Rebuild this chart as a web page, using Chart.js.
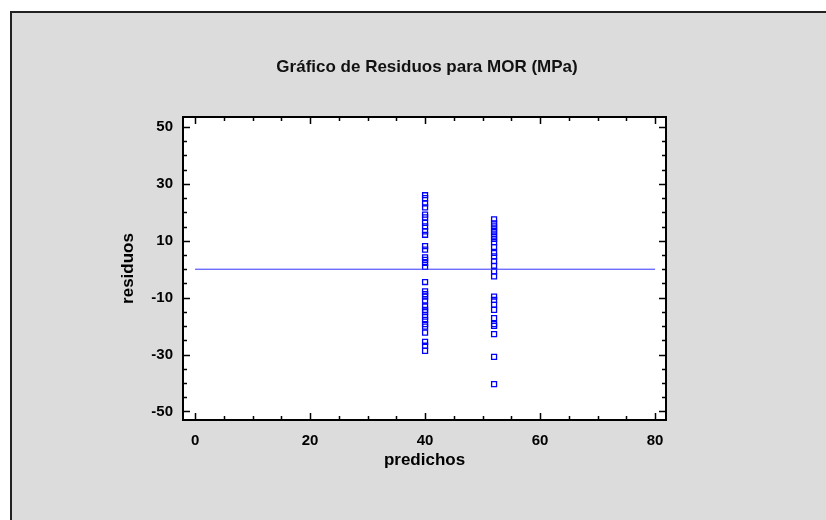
<!DOCTYPE html>
<html>
<head>
<meta charset="utf-8">
<script src="https://cdn.jsdelivr.net/npm/chart.js@4"></script>
<style>
  html, body { margin: 0; padding: 0; background: #ffffff; }
  #wrap { width: 826px; height: 520px; }
</style>
</head>
<body>
<div id="wrap"><canvas id="resChart" width="826" height="520"></canvas></div>
<script>
// predicted values of the two groups
var predA = 40.0;
var predB = 52.0;
// residuals
var residA = [26.0, 25.0, 23.1, 21.7, 19.2, 18.2, 16.3, 15.1, 13.3, 12.1, 8.1, 6.9, 4.2, 3.3, 2.2, 0.8,
  -4.5, -7.8, -8.8, -9.6, -11.0, -13.1, -14.3, -15.1, -16.7, -17.8, -19.3, -20.2, -22.3, -25.5, -26.9, -28.7];
var residB = [17.5, 16.1, 15.1, 14.0, 13.0, 11.8, 10.7, 9.5, 7.8, 5.7, 4.5, 2.8, 1.2, -0.8, -2.5,
  -9.6, -10.8, -12.5, -14.3, -17.2, -19.3, -19.9, -22.8, -30.8, -40.4];
var zeroLineX = [0, 80];
var zeroLineY = [0, 0];
var xTicks = [0, 20, 40, 60, 80];
var yTicks = [-50, -30, -10, 10, 30, 50];
var xMinor = 5, yMinor = 5;

function toPoints(x, ys) {
  return ys.map(function (v) { return { x: x, y: v }; });
}

var frame = {
  id: "frame",
  beforeDraw: function (chart) {
    var c = chart.ctx, a = chart.chartArea;
    c.save();
    c.fillStyle = "#ffffff";
    c.fillRect(0, 0, chart.width, chart.height);
    c.fillStyle = "#dcdcdc";
    c.fillRect(10, 11, chart.width - 10, chart.height - 11);
    c.strokeStyle = "#222222";
    c.lineWidth = 2;
    c.beginPath();
    c.moveTo(11, chart.height);
    c.lineTo(11, 12);
    c.lineTo(chart.width, 12);
    c.stroke();
    c.fillStyle = "#ffffff";
    c.fillRect(a.left, a.top, a.right - a.left, a.bottom - a.top);
    // title
    c.fillStyle = "#111111";
    c.font = "bold 17px 'Liberation Sans', Arial, sans-serif";
    c.textAlign = "center";
    c.textBaseline = "middle";
    c.fillText("Gráfico de Residuos para MOR (MPa)", 427, 67);
    c.restore();
  },
  afterDatasetsDraw: function (chart) {
    var c = chart.ctx, a = chart.chartArea;
    var xs = chart.scales.x, ys = chart.scales.y;
    c.save();
    c.strokeStyle = "#000000";
    c.lineWidth = 2;
    c.strokeRect(a.left, a.top, a.right - a.left, a.bottom - a.top);
    c.lineWidth = 1.5;
    c.beginPath();
    for (var v = xTicks[0]; v <= xTicks[xTicks.length - 1]; v += xMinor) {
      var len = xTicks.indexOf(v) >= 0 ? 7 : 4;
      var px = Math.round(xs.getPixelForValue(v)) + 0.5;
      c.moveTo(px, a.bottom); c.lineTo(px, a.bottom - len);
      c.moveTo(px, a.top); c.lineTo(px, a.top + len);
    }
    for (var w = yTicks[0]; w <= yTicks[yTicks.length - 1]; w += yMinor) {
      var l2 = yTicks.indexOf(w) >= 0 ? 7 : 4;
      var py = Math.round(ys.getPixelForValue(w)) + 0.5;
      c.moveTo(a.left, py); c.lineTo(a.left + l2, py);
      c.moveTo(a.right, py); c.lineTo(a.right - l2, py);
    }
    c.stroke();
    c.restore();
  }
};

var tickFont = { family: "'Liberation Sans', Arial, sans-serif", size: 15, weight: "bold" };
var titleFont = { family: "'Liberation Sans', Arial, sans-serif", size: 17, weight: "bold" };

new Chart(document.getElementById("resChart").getContext("2d"), {
  type: "scatter",
  data: {
    datasets: [
      {
        label: "cero",
        type: "line",
        data: zeroLineX.map(function (x, i) { return { x: x, y: zeroLineY[i] }; }),
        borderColor: "#3333ff",
        borderWidth: 1,
        pointRadius: 0,
        fill: false
      },
      {
        label: "grupo A",
        data: toPoints(predA, residA),
        pointStyle: "rect",
        pointRadius: 3.5,
        pointBackgroundColor: "rgba(255,255,255,0)",
        pointBorderColor: "#0000ff",
        pointBorderWidth: 1.3
      },
      {
        label: "grupo B",
        data: toPoints(predB, residB),
        pointStyle: "rect",
        pointRadius: 3.5,
        pointBackgroundColor: "rgba(255,255,255,0)",
        pointBorderColor: "#0000ff",
        pointBorderWidth: 1.3
      }
    ]
  },
  options: {
    responsive: false,
    animation: false,
    events: [],
    layout: { padding: { left: 118.4, right: 160, top: 117, bottom: 49 } },
    plugins: { legend: { display: false }, tooltip: { enabled: false }, title: { display: false } },
    scales: {
      x: {
        type: "linear",
        min: -2.1,
        max: 81.9,
        grid: { display: false, drawTicks: false, tickLength: 0 },
        border: { display: false },
        afterBuildTicks: function (s) { s.ticks = xTicks.map(function (v) { return { value: v }; }); },
        afterFit: function (s) { s.height = 51; },
        ticks: { color: "#000000", font: tickFont, padding: 12, maxRotation: 0 },
        title: { display: true, text: "predichos", color: "#000000", font: titleFont, padding: 0 }
      },
      y: {
        type: "linear",
        min: -53,
        max: 53.5,
        grid: { display: false, drawTicks: false, tickLength: 0 },
        border: { display: false },
        afterBuildTicks: function (s) { s.ticks = yTicks.map(function (v) { return { value: v }; }); },
        afterFit: function (s) { s.width = 64.6; },
        ticks: { color: "#000000", font: tickFont, padding: 10 },
        title: { display: true, text: "residuos", color: "#000000", font: titleFont, padding: 0 }
      }
    }
  },
  plugins: [frame]
});
</script>
</body>
</html>
